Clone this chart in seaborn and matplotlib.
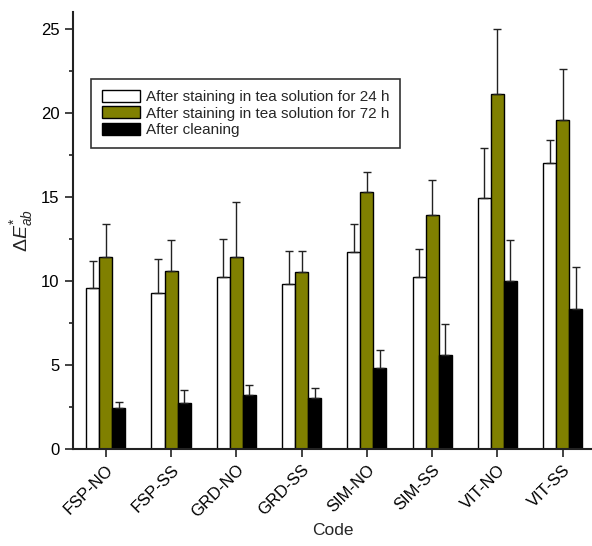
import matplotlib
matplotlib.use("Agg")
import matplotlib.pyplot as plt
import seaborn as sns
import pandas as pd
import numpy as np
from matplotlib.ticker import MultipleLocator

codes = ["FSP-NO", "FSP-SS", "GRD-NO", "GRD-SS", "SIM-NO", "SIM-SS", "VIT-NO", "VIT-SS"]
series = ["After staining in tea solution for 24 h",
          "After staining in tea solution for 72 h",
          "After cleaning"]
vals_24h = [9.6, 9.3, 10.2, 9.8, 11.7, 10.2, 14.9, 17.0]
vals_72h = [11.4, 10.6, 11.4, 10.5, 15.3, 13.9, 21.1, 19.6]
vals_clean = [2.4, 2.7, 3.2, 3.0, 4.8, 5.6, 10.0, 8.3]
err_24h = [1.6, 2.0, 2.3, 2.0, 1.7, 1.7, 3.0, 1.4]
err_72h = [2.0, 1.8, 3.3, 1.3, 1.2, 2.1, 3.9, 3.0]
err_clean = [0.4, 0.8, 0.6, 0.6, 1.1, 1.8, 2.4, 2.5]
colors = ["#ffffff", "#808000", "#000000"]

sns.set_theme(style="ticks")
plt.rcParams['font.family'] = ['Liberation Sans', 'DejaVu Sans']
plt.rcParams['mathtext.fontset'] = 'custom'
plt.rcParams['mathtext.rm'] = 'Liberation Sans'
plt.rcParams['mathtext.it'] = 'Liberation Sans:italic'

df = pd.DataFrame({
    "Code": codes * 3,
    "Series": [s for s in series for _ in codes],
    "Value": vals_24h + vals_72h + vals_clean,
})
errs = [err_24h, err_72h, err_clean]

fig = plt.figure(figsize=(5.92, 5.46), dpi=100)
ax = fig.add_axes([0.123, 0.178, 0.877, 0.80])

sns.barplot(data=df, x="Code", y="Value", hue="Series", palette=colors,
            errorbar=None, width=0.6, edgecolor="black", linewidth=1.0,
            ax=ax, saturation=1)

for cont, e in zip(ax.containers, errs):
    for bar, ev in zip(cont.patches, e):
        xc = bar.get_x() + bar.get_width() / 2
        h = bar.get_height()
        ax.errorbar([xc], [h], yerr=[[0], [ev]], fmt="none", ecolor="#222222",
                    elinewidth=1.0, capsize=3, capthick=1.0, zorder=1)

ax.set_ylim(0, 26)
ax.set_xlim(-0.505, 7.45)
ax.yaxis.set_major_locator(MultipleLocator(5))
ax.yaxis.set_minor_locator(MultipleLocator(2.5))
ax.tick_params(axis="both", which="major", direction="out", length=6, width=1.2,
               labelsize=12, colors="#222222", labelcolor="black")
ax.tick_params(axis="y", which="minor", direction="out", length=3, width=1.2, colors="#222222")
plt.setp(ax.get_xticklabels(), rotation=45, ha="right", rotation_mode="anchor")

sns.despine(ax=ax)
for s in ["left", "bottom"]:
    ax.spines[s].set_linewidth(1.5)
    ax.spines[s].set_color("#222222")

ax.set_xlabel("Code", fontsize=12.5, labelpad=2)
ax.set_ylabel(r"$\mathit{\Delta E}^{*}_{ab}$", fontsize=14, labelpad=4)

leg = ax.legend(loc="upper left", bbox_to_anchor=(0.035, 0.847), borderaxespad=0,
                fontsize=11, frameon=True, fancybox=False, edgecolor="black",
                handlelength=2.5, handleheight=0.85, labelspacing=0.15,
                handletextpad=0.4, borderpad=0.7, title=None)
leg.get_frame().set_linewidth(1.2)
leg.get_frame().set_facecolor("white")

fig.savefig("out.png", dpi=100)
